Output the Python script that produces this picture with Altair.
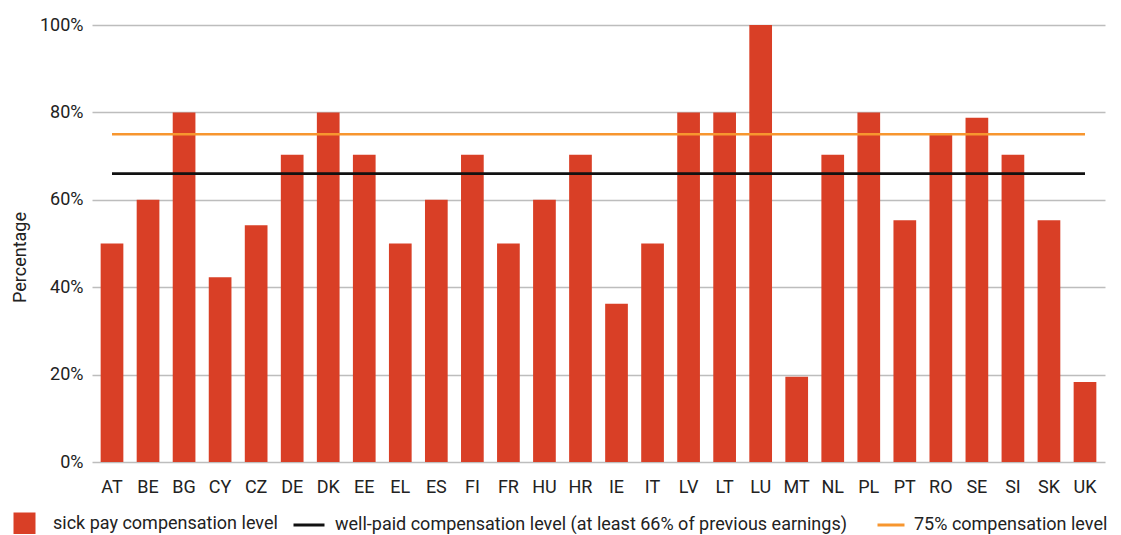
import altair as alt
import pandas as pd

countries = ["AT", "BE", "BG", "CY", "CZ", "DE", "DK", "EE", "EL", "ES", "FI", "FR", "HU", "HR",
             "IE", "IT", "LV", "LT", "LU", "MT", "NL", "PL", "PT", "RO", "SE", "SI", "SK", "UK"]
sick_pay = [50, 60, 80, 42.3, 54.2, 70.3, 80, 70.3, 50, 60, 70.3, 50, 60, 70.3,
            36.2, 50, 80, 80, 100, 19.5, 70.3, 80, 55.3, 75, 78.8, 70.3, 55.3, 18.3]
well_paid_level = 66
full_level = 75

bar_name = "sick pay compensation level"
black_name = "well-paid compensation level (at least 66% of previous earnings)"
orange_name = "75% compensation level"

FONT = "Roboto"
TXT = "#222222"

bars_df = pd.DataFrame({"country": countries, "value": sick_pay, "series": [bar_name] * len(countries)})
black_df = pd.DataFrame({"country": countries, "value": [well_paid_level] * len(countries),
                         "series": [black_name] * len(countries)})
orange_df = pd.DataFrame({"country": countries, "value": [full_level] * len(countries),
                          "series": [orange_name] * len(countries)})

x_enc = alt.X("country:N", sort=countries,
              scale=alt.Scale(paddingInner=0.37, paddingOuter=0.24),
              axis=alt.Axis(title=None, labelAngle=0, domain=False, ticks=False, grid=False,
                            labelPadding=16, labelFontSize=18, labelFont=FONT, labelColor=TXT))
y_enc = alt.Y("value:Q", scale=alt.Scale(domain=[0, 100], nice=False),
              axis=alt.Axis(values=[0, 20, 40, 60, 80, 100], labelExpr="datum.value + '%'",
                            domain=False, ticks=False, grid=True, gridColor="#bdbdbd", gridWidth=1.5,
                            labelPadding=9, labelFontSize=18, labelFont=FONT, labelColor=TXT,
                            title="Percentage", titleFontSize=18, titleFont=FONT, titleColor=TXT,
                            titleFontWeight="normal", titleX=-72, titleY=232,
                            titleAlign="center", titleBaseline="middle", titleAngle=270))

def legend(x, y, stype, ssize, offset):
    return alt.Legend(title=None, orient="none", legendX=x, legendY=y, symbolType=stype,
                      symbolSize=ssize, symbolStrokeWidth=3, labelOffset=offset, padding=0,
                      labelFontSize=18, labelFont=FONT, labelColor=TXT, labelLimit=800)

bars = alt.Chart(bars_df).mark_bar(color="#d93f26").encode(
    x=x_enc, y=y_enc,
    color=alt.Color("series:N", scale=alt.Scale(domain=[bar_name], range=["#d93f26"]),
                    legend=legend(-80, 486, "square", 484, 16)),
)

black = alt.Chart(black_df).mark_line(strokeWidth=2.6).encode(
    x=alt.X("country:N", sort=countries), y="value:Q",
    color=alt.Color("series:N", scale=alt.Scale(domain=[black_name], range=["#111111"]),
                    legend=legend(200, 483, "stroke", 961, 9)),
)

orange = alt.Chart(orange_df).mark_line(strokeWidth=2.6).encode(
    x=alt.X("country:N", sort=countries), y="value:Q",
    color=alt.Color("series:N", scale=alt.Scale(domain=[orange_name], range=["#f7962f"]),
                    legend=legend(784, 485, "stroke", 729, 8)),
)

chart = alt.layer(bars, black, orange).resolve_scale(color="independent").resolve_legend(
    color="independent"
).properties(
    width=1013, height=437,
    padding={"left": 84, "top": 17, "right": 8, "bottom": 72},
    autosize=alt.AutoSizeParams(type="none"),
).configure_view(stroke=None)

chart.save("out.html", embed_options={"renderer": "svg", "actions": False})
